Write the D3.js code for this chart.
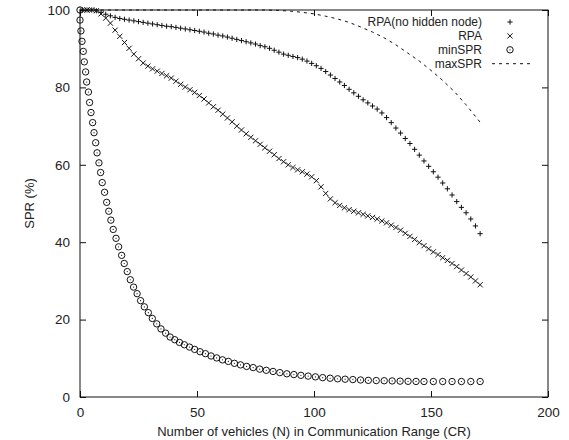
<!DOCTYPE html>
<html>
<head>
<meta charset="utf-8">
<script src="https://cdn.jsdelivr.net/npm/d3@7"></script>
<style>
  body { margin: 0; background: #fff; }
  svg text { font-family: "Liberation Sans", Arial, Helvetica, sans-serif; fill: #222; }
</style>
</head>
<body>
<div id="chart"></div>
<script>
// values
const rpaX = [1, 3, 5, 7, 9, 11, 13, 15, 17, 19, 21, 23, 25, 27, 29, 31, 33, 35, 37, 39,
  41, 43, 45, 47, 49, 51, 53, 55, 57, 59, 61, 63, 65, 67, 69, 71, 73, 75, 77, 79,
  81, 83, 85, 87, 89, 91, 93, 95, 97, 99, 101, 103, 105, 107, 109, 111, 113, 115, 117, 119,
  121, 123, 125, 127, 129, 131, 133, 135, 137, 139, 141, 143, 145, 147, 149, 151, 153, 155, 157, 159,
  161, 163, 165, 167, 169, 171];

const rpaNoHidden = [100, 100, 100, 99.8, 99.4, 98.9, 98.5, 98.1, 97.8, 97.6, 97.4, 97.2, 97.0, 96.8, 96.6, 96.4, 96.2, 96.0, 95.8, 95.7,
  95.5, 95.3, 95.1, 94.9, 94.7, 94.5, 94.3, 94.0, 93.8, 93.5, 93.3, 93.0, 92.7, 92.4, 92.1, 91.8, 91.5, 91.2, 90.8, 90.5,
  90.1, 89.6, 89.1, 88.6, 88.3, 88.0, 87.7, 87.3, 86.8, 86.2, 85.6, 84.9, 84.1, 83.2, 82.3, 81.4, 80.5, 79.5, 78.6, 77.7,
  76.8, 76.0, 75.2, 74.4, 73.4, 72.2, 70.9, 69.5, 68.2, 66.8, 65.5, 64.0, 62.5, 61.0, 59.6, 58.2, 56.8, 55.3, 53.8, 52.2,
  50.5, 49.0, 47.6, 46.0, 44.2, 42.2];

const rpa = [100, 100, 100, 99.8, 99.0, 97.9, 96.6, 94.8, 93.2, 91.6, 90.1, 88.6, 87.4, 86.3, 85.5, 84.8, 84.2, 83.6, 83.0, 82.4,
  81.6, 80.8, 80.1, 79.4, 78.7, 77.9, 77.0, 76.0, 75.0, 74.1, 73.1, 72.1, 71.1, 70.0, 69.0, 68.0, 67.1, 66.2, 65.3, 64.4,
  63.5, 62.6, 61.6, 60.8, 60.0, 59.3, 58.7, 58.2, 57.6, 56.9, 55.9, 54.3, 52.6, 51.2, 50.2, 49.5, 48.9, 48.4, 48.0, 47.6,
  47.2, 46.8, 46.4, 46.0, 45.5, 45.0, 44.4, 43.8, 43.1, 42.3, 41.5, 40.7, 39.9, 39.1, 38.3, 37.5, 36.8, 36.0, 35.3, 34.5,
  33.7, 32.8, 31.9, 31.0, 30.0, 29.0];

const minX = [0, 0, 0.4, 0.85, 1.4, 1.85, 2.4, 2.85, 3.6, 4.1, 4.7, 5.4, 6.0, 6.7, 7.3, 8.1, 8.8, 9.5, 10.5, 11.4,
  12.3, 13.2, 14.2, 15.4, 16.5, 17.8, 18.9, 20.2, 21.5, 22.9, 24.4, 25.9, 27.5, 29.2, 30.9, 32.8, 34.6, 36.6, 38.5, 40.5,
  42.5, 44.6, 46.8, 49, 51.3, 53.6, 56, 58.4, 60.9, 63.4, 66, 68.6, 71.2, 74, 76.8, 79.6, 82.5, 85.4, 88.4, 91.4,
  94.4, 97.5, 100.6, 103.7, 106.9, 110.1, 113.3, 116.6, 119.9, 123.2, 126.6, 130, 133.4, 136.8, 140.2, 143.6, 147, 151, 155, 159,
  163, 167, 171];

const minSPR = [100, 97.4, 94.6, 91.9, 89.3, 86.6, 84.0, 81.4, 78.8, 76.1, 73.5, 70.9, 68.3, 65.7, 63.1, 60.5, 58.0, 55.4, 52.9, 50.3,
  48.0, 45.7, 43.3, 41.0, 38.8, 36.6, 34.5, 32.4, 30.3, 28.4, 26.7, 24.9, 23.3, 21.8, 20.3, 18.9, 17.6, 16.5, 15.5, 14.8,
  14.1, 13.5, 12.9, 12.3, 11.7, 11.2, 10.6, 10.1, 9.6, 9.2, 8.7, 8.3, 7.9, 7.6, 7.2, 6.9, 6.6, 6.3, 6.0, 5.8,
  5.6, 5.4, 5.2, 5.0, 4.85, 4.7, 4.6, 4.5, 4.4, 4.3, 4.25, 4.2, 4.15, 4.1, 4.05, 4.02, 4.0, 4.0, 4.0, 4.0,
  4.0, 4.0, 4.0];

const maxX = [0, 10, 20, 30, 40, 50, 60, 70, 80, 85, 90, 95, 100, 105, 110, 115, 120, 125, 130, 135,
  140, 145, 150, 155, 160, 165, 171];
const maxSPR = [100, 100, 100, 100, 100, 100, 100, 100, 100, 99.9, 99.7, 99.4, 99.0, 98.4, 97.7, 96.8, 95.6, 94.3, 92.8, 91.0,
  88.9, 86.8, 84.4, 81.8, 78.9, 75.5, 71.0];

const xTicks = [0, 50, 100, 150, 200];
const yTicks = [0, 20, 40, 60, 80, 100];
const legendLabels = ['RPA(no hidden node)', 'RPA', 'minSPR', 'maxSPR'];

const W = 569, H = 440;
const margin = { top: 10, right: 21, bottom: 43, left: 80 };
const width = W - margin.left - margin.right;
const height = H - margin.top - margin.bottom;
const ink = '#111';

const svg = d3.select('#chart').append('svg')
  .attr('width', W)
  .attr('height', H);

const x = d3.scaleLinear().domain([0, 200]).range([margin.left, margin.left + width]);
const y = d3.scaleLinear().domain([0, 100]).range([margin.top + height, margin.top]);

// axes with inward ticks, mirrored on top and right
const axisFont = '13.5px';
const axBottom = svg.append('g')
  .attr('transform', `translate(0,${margin.top + height})`)
  .call(d3.axisBottom(x).tickValues(xTicks).tickSizeInner(-6).tickSizeOuter(0).tickPadding(10));
const axLeft = svg.append('g')
  .attr('transform', `translate(${margin.left},0)`)
  .call(d3.axisLeft(y).tickValues(yTicks).tickSizeInner(-6).tickSizeOuter(0).tickPadding(10));
const axTop = svg.append('g')
  .attr('transform', `translate(0,${margin.top})`)
  .call(d3.axisTop(x).tickValues(xTicks).tickSizeInner(-6).tickSizeOuter(0).tickFormat(''));
const axRight = svg.append('g')
  .attr('transform', `translate(${margin.left + width},0)`)
  .call(d3.axisRight(y).tickValues(yTicks).tickSizeInner(-6).tickSizeOuter(0).tickFormat(''));

[axBottom, axLeft, axTop, axRight].forEach(g => {
  g.select('.domain').remove();
  g.selectAll('line').attr('stroke', ink).attr('stroke-width', 1);
  g.selectAll('text').attr('font-size', axisFont).attr('fill', '#222');
});

svg.append('rect')
  .attr('x', margin.left)
  .attr('y', margin.top)
  .attr('width', width)
  .attr('height', height)
  .attr('fill', 'none')
  .attr('stroke', ink)
  .attr('stroke-width', 1);

svg.append('text')
  .attr('x', margin.left + width / 2)
  .attr('y', 436)
  .attr('text-anchor', 'middle')
  .attr('font-size', '13px')
  .text('Number of vehicles (N) in Communication Range (CR)');

svg.append('text')
  .attr('transform', `translate(34,${margin.top + height / 2}) rotate(-90)`)
  .attr('text-anchor', 'middle')
  .attr('font-size', '13px')
  .text('SPR (%)');

const plot = svg.append('g');

// marker helpers
const s = 2.6;
function plus(g, cx, cy) {
  g.append('path')
    .attr('d', `M${cx - s},${cy}H${cx + s}M${cx},${cy - s}V${cy + s}`)
    .attr('stroke', ink).attr('stroke-width', 1).attr('fill', 'none');
}
function cross(g, cx, cy) {
  g.append('path')
    .attr('d', `M${cx - s},${cy - s}L${cx + s},${cy + s}M${cx - s},${cy + s}L${cx + s},${cy - s}`)
    .attr('stroke', ink).attr('stroke-width', 1).attr('fill', 'none');
}
function circ(g, cx, cy) {
  g.append('circle').attr('cx', cx).attr('cy', cy).attr('r', 3.2)
    .attr('fill', 'none').attr('stroke', ink).attr('stroke-width', 1);
  g.append('circle').attr('cx', cx).attr('cy', cy).attr('r', 0.6).attr('fill', ink);
}

// maxSPR dashed line
const line = d3.line().x(d => x(d[0])).y(d => y(d[1]));
plot.append('path')
  .datum(d3.zip(maxX, maxSPR))
  .attr('d', line)
  .attr('fill', 'none')
  .attr('stroke', ink)
  .attr('stroke-width', 1)
  .attr('stroke-dasharray', '3,4');

rpaX.forEach((n, i) => plus(plot, x(n), y(rpaNoHidden[i])));
rpaX.forEach((n, i) => cross(plot, x(n), y(rpa[i])));
minX.forEach((n, i) => circ(plot, x(n), y(minSPR[i])));

// legend
const legend = svg.append('g');
legendLabels.forEach((label, i) => {
  const ly = 22 + i * 13.9;
  legend.append('text')
    .attr('x', 482)
    .attr('y', ly)
    .attr('dy', '0.35em')
    .attr('text-anchor', 'end')
    .attr('font-size', '12px')
    .text(label);
  if (i === 0) plus(legend, 510, ly);
  if (i === 1) cross(legend, 510, ly);
  if (i === 2) circ(legend, 510, ly);
  if (i === 3) {
    legend.append('line')
      .attr('x1', 492).attr('x2', 530)
      .attr('y1', ly).attr('y2', ly)
      .attr('stroke', ink).attr('stroke-width', 1)
      .attr('stroke-dasharray', '3,4');
  }
});
</script>
</body>
</html>
